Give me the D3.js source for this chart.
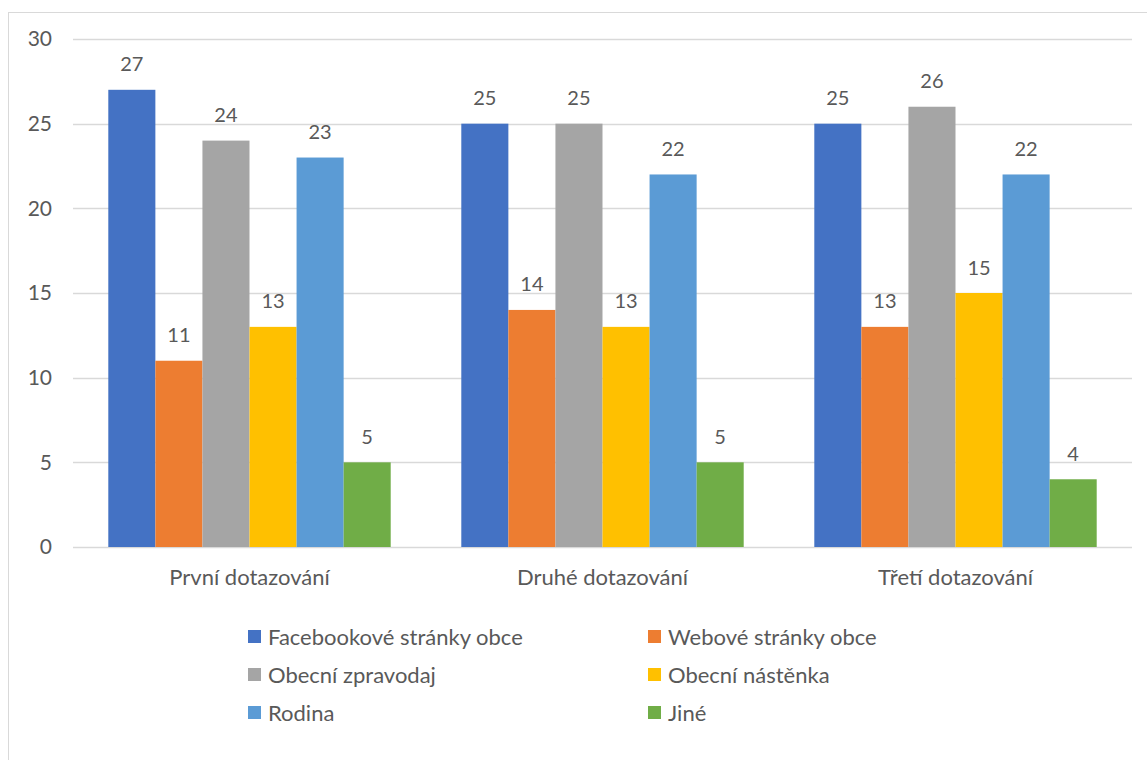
<!DOCTYPE html>
<html><head><meta charset="utf-8">
<script src="https://cdn.jsdelivr.net/npm/d3@7"></script>
<style>body{margin:0;background:#fff}svg{display:block}text{font-family:Lato,"Open Sans",sans-serif;fill:#595959}</style>
</head><body>
<svg id="c" width="1147" height="760"></svg>
<script>
const categories = ["První dotazování", "Druhé dotazování", "Třetí dotazování"];
const seriesNames = ["Facebookové stránky obce", "Webové stránky obce", "Obecní zpravodaj", "Obecní nástěnka", "Rodina", "Jiné"];
const facebook = [27, 25, 25];
const webove = [11, 14, 13];
const zpravodaj = [24, 25, 26];
const nastenka = [13, 13, 15];
const rodina = [23, 22, 22];
const jine = [5, 5, 4];
const colors = ["#4472C4", "#ED7D31", "#A5A5A5", "#FFC000", "#5B9BD5", "#70AD47"];
const yTicks = [0, 5, 10, 15, 20, 25, 30];

const seriesValues = [facebook, webove, zpravodaj, nastenka, rodina, jine];
const svg = d3.select("#c");

// chart border
svg.append("rect").attr("x", 8.5).attr("y", 12.5).attr("width", 1160).attr("height", 760)
  .attr("fill", "none").attr("stroke", "#d9d9d9").attr("stroke-width", 1);

const x0 = d3.scaleBand().domain(categories).range([73, 1132]).paddingInner(0.2).paddingOuter(0.1);
const x1 = d3.scaleBand().domain(seriesNames).range([0, x0.bandwidth()]);
const y = d3.scaleLinear().domain([0, 30]).range([547, 39]);

// gridlines
svg.append("g").selectAll("line").data(yTicks).join("line")
  .attr("x1", 73).attr("x2", 1132)
  .attr("y1", d => Math.round(y(d)) + 0.5).attr("y2", d => Math.round(y(d)) + 0.5)
  .attr("stroke", "#d9d9d9").attr("stroke-width", 1.3);

// y axis labels
const yAxis = svg.append("g").attr("transform", "translate(52,0)")
  .call(d3.axisLeft(y).tickValues(yTicks).tickSize(0).tickPadding(0));
yAxis.select(".domain").remove();
yAxis.selectAll("text").attr("font-size", 21).attr("fill", "#595959").attr("font-family", "Lato, sans-serif");

// x axis labels
const xAxis = svg.append("g").attr("transform", "translate(0,547)")
  .call(d3.axisBottom(x0).tickSize(0).tickPadding(22));
xAxis.select(".domain").remove();
xAxis.selectAll("text").attr("font-size", 22).attr("fill", "#595959").attr("font-family", "Lato, sans-serif");

// bars
const groups = svg.append("g").selectAll("g").data(categories).join("g")
  .attr("transform", c => `translate(${x0(c)},0)`);
groups.each(function(c, ci) {
  const g = d3.select(this);
  const data = seriesNames.map((s, si) => ({s, si, v: seriesValues[si][ci]}));
  g.selectAll("rect").data(data).join("rect")
    .attr("x", d => x1(d.s)).attr("width", x1.bandwidth())
    .attr("y", d => y(d.v)).attr("height", d => y(0) - y(d.v))
    .attr("fill", d => colors[d.si]);
  g.selectAll("text").data(data).join("text")
    .attr("x", d => x1(d.s) + x1.bandwidth() / 2).attr("y", d => y(d.v) - 18.5)
    .attr("text-anchor", "middle").attr("font-size", 20).text(d => d.v);
});

// legend
const legend = svg.append("g");
seriesNames.forEach((s, i) => {
  const col = i % 2, row = Math.floor(i / 2);
  const lx = col === 0 ? 248 : 648;
  const base = 645 + row * 38;
  legend.append("rect").attr("x", lx).attr("y", base - 15).attr("width", 13).attr("height", 13).attr("fill", colors[i]);
  legend.append("text").attr("x", lx + 20).attr("y", base).attr("font-size", 22).text(s);
});
</script>
</body></html>
